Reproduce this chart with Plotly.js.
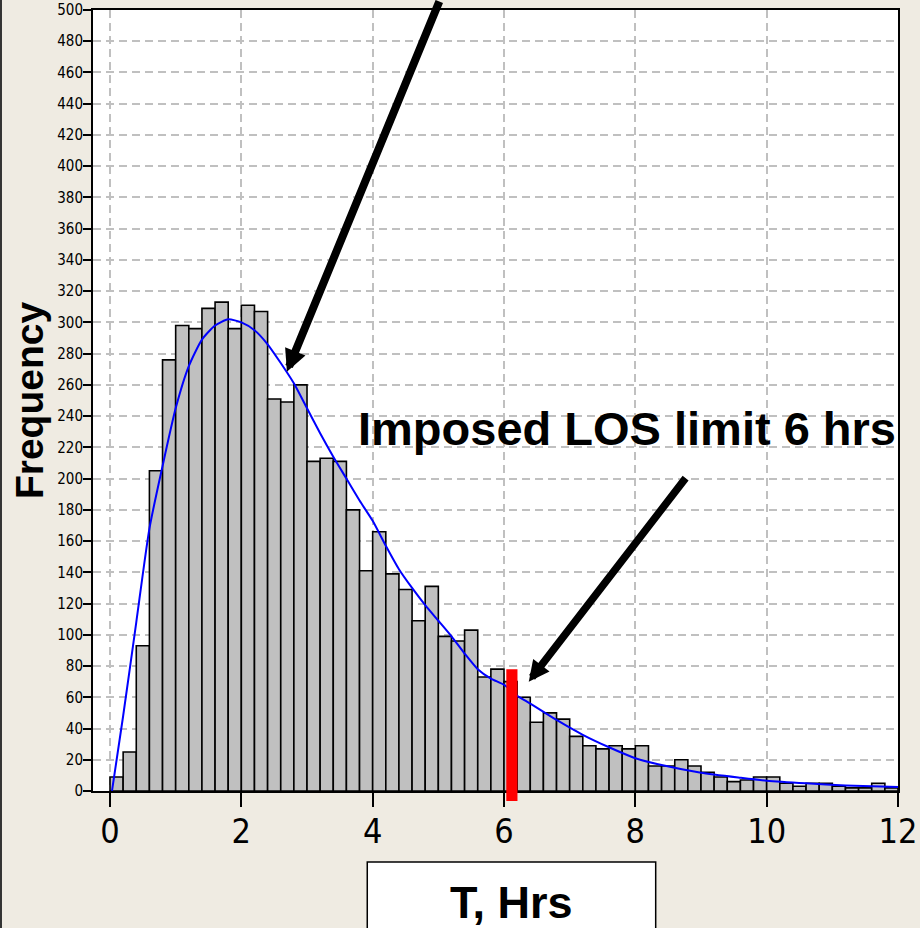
<!DOCTYPE html>
<html>
<head>
<meta charset="utf-8">
<script src="https://cdn.plot.ly/plotly-3.0.1.min.js"></script>
<style>
  html, body { margin: 0; padding: 0; background: #EFEBE2; }
  #chart { width: 920px; height: 928px; }
</style>
</head>
<body>
<div id="chart"></div>
<script>
// Histogram bins (hours, bin width 0.2) and frequencies
const binCenters = [0.1,0.3,0.5,0.7,0.9,1.1,1.3,1.5,1.7,1.9,
  2.1,2.3,2.5,2.7,2.9,3.1,3.3,3.5,3.7,3.9,
  4.1,4.3,4.5,4.7,4.9,5.1,5.3,5.5,5.7,5.9,
  6.1,6.3,6.5,6.7,6.9,7.1,7.3,7.5,7.7,7.9,
  8.1,8.3,8.5,8.7,8.9,9.1,9.3,9.5,9.7,9.9,
  10.1,10.3,10.5,10.7,10.9,11.1,11.3,11.5,11.7,11.9];
const counts = [9,25,93,205,276,298,296,309,313,296,
  311,307,251,249,260,211,213,211,180,141,
  166,139,129,109,131,99,96,103,73,78,
  70,60,44,50,46,35,29,27,29,27,
  29,16,16,20,16,12,9,6,7,9,
  9,5,3,5,5,3,2,2,5,2];

// Fitted density curve
const fitX = [0.03,0.2,0.4,0.6,0.8,1.0,1.2,1.4,1.6,1.8,2.0,2.2,2.4,2.6,2.8,3.0,3.2,3.4,3.6,3.8,4.0,
  4.2,4.4,4.6,4.8,5.0,5.2,5.4,5.6,5.8,6.0,6.2,6.4,6.8,7.2,7.6,8.0,8.4,9.0,9.6,10.0,10.6,11.2,12.0];
const fitY = [0,48,108,168,208,245,272,289,298,302,300,295,286,274,261,245,229,214,200,186,173,
  157,142,130,119,109,99,88,78,72,68,61,56,45.5,36,28,21,16.6,11.7,8.5,6.6,4.9,3.6,2.6];

const xTickVals = [0,2,4,6,8,10,12];
const xTickText = ['0','2','4','6','8','10','12'];

const narrow = '"Liberation Sans Narrow", "DejaVu Sans Condensed", "Arial Narrow", sans-serif';
const bold = '"Liberation Sans", Arial, sans-serif';

const traces = [
  {
    type: 'bar',
    x: binCenters,
    y: counts,
    width: 0.2,
    marker: { color: '#C0C0C0', line: { color: '#000000', width: 1.6 } },
    hoverinfo: 'skip'
  },
  {
    type: 'scatter',
    mode: 'lines',
    x: fitX,
    y: fitY,
    line: { color: '#0000FF', width: 2, shape: 'spline', smoothing: 0.6 },
    hoverinfo: 'skip'
  }
];

const layout = {
  width: 920,
  height: 928,
  margin: { l: 93, r: 22, t: 10, b: 137 },
  paper_bgcolor: '#EFEBE2',
  plot_bgcolor: '#FFFFFF',
  showlegend: false,
  hovermode: false,
  xaxis: {
    range: [-0.259, 12],
    tickmode: 'array',
    tickvals: xTickVals,
    ticktext: xTickText,
    ticks: 'outside',
    ticklen: 14,
    tickwidth: 2,
    tickcolor: '#000000',
    showline: true,
    linewidth: 2,
    linecolor: '#000000',
    mirror: true,
    showgrid: true,
    gridcolor: '#C0C0C0',
    gridwidth: 2,
    griddash: '8px,5px',
    zeroline: false,
    tickfont: { family: narrow, size: 34, color: '#000000' },
    ticklabelstandoff: -5,
    ticklabeloverflow: 'allow'
  },
  yaxis: {
    range: [0, 500],
    dtick: 20,
    tick0: 0,
    ticks: 'outside',
    ticklen: 8,
    tickwidth: 2,
    tickcolor: '#000000',
    showline: true,
    linewidth: 2,
    linecolor: '#000000',
    mirror: true,
    showgrid: true,
    gridcolor: '#C0C0C0',
    gridwidth: 2,
    griddash: '8px,5px',
    zeroline: false,
    tickfont: { family: narrow, size: 15, color: '#000000' },
    ticklabelstandoff: -3,
    ticklabeloverflow: 'allow',
    title: {
      text: 'Frequency',
      font: { family: bold, size: 39, color: '#000000', weight: 700 },
      standoff: 2
    }
  },
  shapes: [
    { type: 'rect', xref: 'x', yref: 'paper', x0: 6.035, x1: 6.205, y0: -0.0128, y1: 0.1558,
      fillcolor: '#FF0000', line: { width: 0 }, layer: 'above' },
    { type: 'rect', xref: 'paper', yref: 'paper', x0: 0.3407, x1: 0.699, y0: -0.0909, y1: -0.20,
      fillcolor: '#FFFFFF', line: { color: '#000000', width: 1.5 }, layer: 'above' },
    { type: 'line', xref: 'paper', yref: 'paper', x0: -0.1143, x1: -0.1143, y0: -0.2, y1: 1.03,
      line: { color: '#333333', width: 2 } }
  ],
  annotations: [
    { xref: 'paper', yref: 'paper', x: 0.5199, y: -0.1426, xanchor: 'center', yanchor: 'middle',
      text: 'T, Hrs', showarrow: false,
      font: { family: bold, size: 45, color: '#000000', weight: 700 } },
    { xref: 'x', yref: 'y', x: 7.869, y: 231.9, xanchor: 'center', yanchor: 'middle',
      text: 'Imposed LOS limit 6 hrs', showarrow: false,
      font: { family: bold, size: 47, color: '#000000', weight: 700 } },
    { xref: 'x', yref: 'y', x: 2.694, y: 268.4, text: '', showarrow: true,
      ax: 153, ay: -380, arrowhead: 2, arrowsize: 0.55, arrowwidth: 8, arrowcolor: '#000000', standoff: 0 },
    { xref: 'x', yref: 'y', x: 6.377, y: 70.0, text: '', showarrow: true,
      ax: 158, ay: -205, arrowhead: 2, arrowsize: 0.55, arrowwidth: 7.5, arrowcolor: '#000000', standoff: 0 }
  ]
};

Plotly.newPlot('chart', traces, layout, { staticPlot: true, displayModeBar: false });
</script>
</body>
</html>
